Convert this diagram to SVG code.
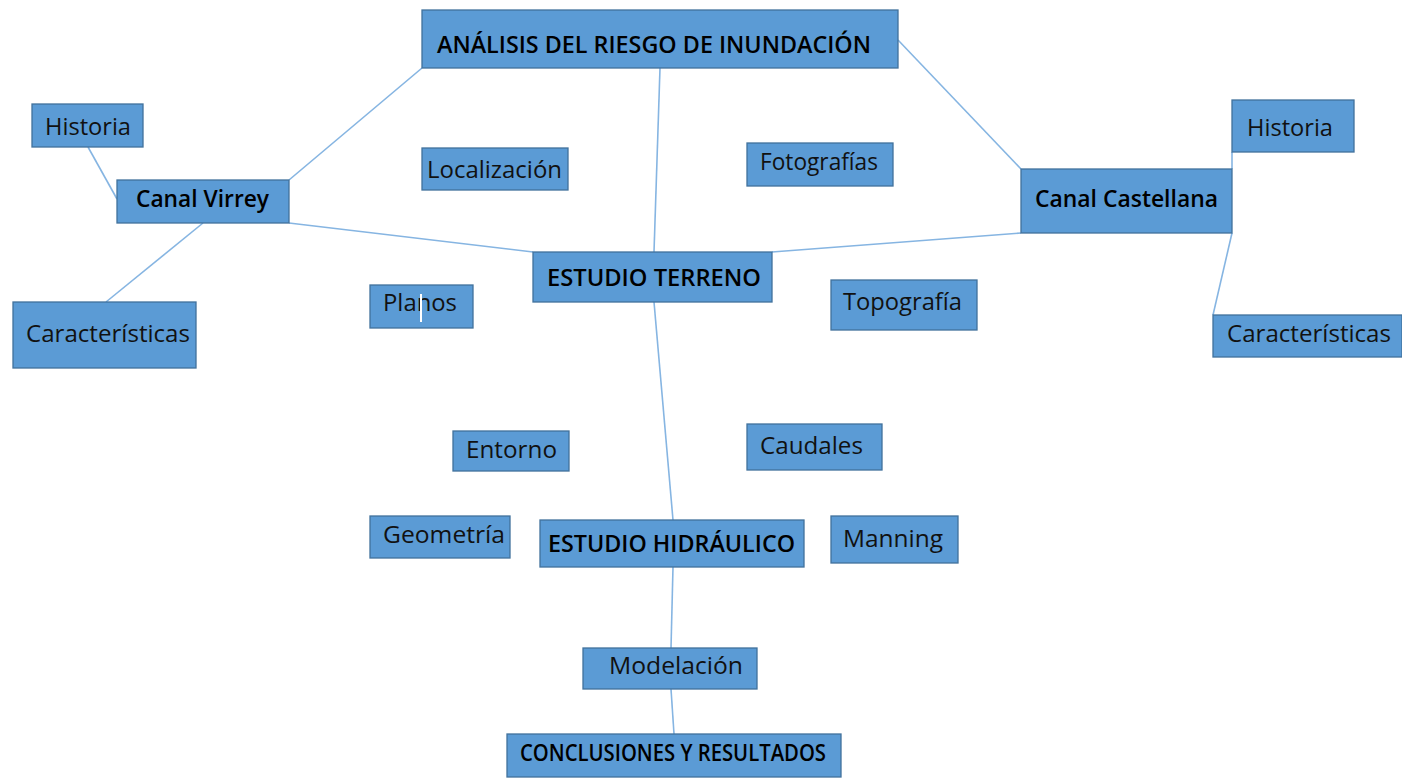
<svg xmlns="http://www.w3.org/2000/svg" width="1402" height="778" viewBox="0 0 1402 778">
<style>
.b{fill:#5b9bd5;stroke:#41719c;stroke-width:1.3}
.t{font-family:"Open Sans","Noto Sans",sans-serif;font-size:23px;fill:#111}
.h{font-family:"Open Sans","Noto Sans",sans-serif;font-size:24px;font-weight:600;fill:#000}
.c line{stroke:#86b5e2;stroke-width:1.6}
</style>
<rect width="1402" height="778" fill="#fff"/>
<g class="c" id="connectors">
<line x1="422" y1="68" x2="289" y2="180"/>
<line x1="660" y1="68" x2="654" y2="252"/>
<line x1="898" y1="40" x2="1021" y2="169"/>
<line x1="289" y1="223" x2="533" y2="252"/>
<line x1="1021" y1="233" x2="772" y2="252"/>
<line x1="88" y1="147" x2="117" y2="199"/>
<line x1="203" y1="223" x2="106" y2="302"/>
<line x1="1232" y1="152" x2="1232" y2="169"/>
<line x1="1232" y1="233" x2="1213" y2="315"/>
<line x1="654" y1="302" x2="673" y2="520"/>
<line x1="673" y1="567" x2="671" y2="648"/>
<line x1="671" y1="689" x2="674" y2="734"/>
</g>
<g id="analisis"><rect class="b" x="422" y="10" width="476" height="58"/><text class="h" x="437" y="53" textLength="434" lengthAdjust="spacingAndGlyphs">ANÁLISIS DEL RIESGO DE INUNDACIÓN</text></g>
<g id="historia-v"><rect class="b" x="32" y="104" width="111" height="43"/><text class="t" x="45" y="135" textLength="86" lengthAdjust="spacingAndGlyphs">Historia</text></g>
<g id="canal-virrey"><rect class="b" x="117" y="180" width="172" height="43"/><text class="h" x="136" y="207" textLength="133" lengthAdjust="spacingAndGlyphs">Canal Virrey</text></g>
<g id="caract-v"><rect class="b" x="13" y="302" width="183" height="66"/><text class="t" x="26" y="342" textLength="164" lengthAdjust="spacingAndGlyphs">Características</text></g>
<g id="localizacion"><rect class="b" x="422" y="148" width="146" height="42"/><text class="t" x="427" y="178" textLength="135" lengthAdjust="spacingAndGlyphs">Localización</text></g>
<g id="fotografias"><rect class="b" x="747" y="143" width="146" height="43"/><text class="t" x="760" y="170" font-size="21" textLength="118" lengthAdjust="spacingAndGlyphs">Fotografías</text></g>
<g id="canal-castellana"><rect class="b" x="1021" y="169" width="211" height="64"/><text class="h" x="1035" y="207" textLength="183" lengthAdjust="spacingAndGlyphs">Canal Castellana</text></g>
<g id="historia-c"><rect class="b" x="1232" y="100" width="122" height="52"/><text class="t" x="1247" y="136" textLength="86" lengthAdjust="spacingAndGlyphs">Historia</text></g>
<g id="caract-c"><rect class="b" x="1213" y="315" width="189" height="42"/><text class="t" x="1227" y="342" textLength="164" lengthAdjust="spacingAndGlyphs">Características</text></g>
<g id="estudio-terreno"><rect class="b" x="533" y="252" width="239" height="50"/><text class="h" x="547" y="286" textLength="214" lengthAdjust="spacingAndGlyphs">ESTUDIO TERRENO</text></g>
<g id="planos"><rect class="b" x="370" y="285" width="103" height="43"/><text class="t" x="383" y="311" textLength="74" lengthAdjust="spacingAndGlyphs">Planos</text><rect x="420" y="294" width="2" height="28" fill="#fff"/></g>
<g id="topografia"><rect class="b" x="831" y="280" width="146" height="50"/><text class="t" x="843" y="310" textLength="119" lengthAdjust="spacingAndGlyphs">Topografía</text></g>
<g id="entorno"><rect class="b" x="453" y="431" width="116" height="40"/><text class="t" x="466" y="458" textLength="91" lengthAdjust="spacingAndGlyphs">Entorno</text></g>
<g id="caudales"><rect class="b" x="747" y="424" width="135" height="46"/><text class="t" x="760" y="454" textLength="103" lengthAdjust="spacingAndGlyphs">Caudales</text></g>
<g id="geometria"><rect class="b" x="370" y="516" width="140" height="42"/><text class="t" x="383" y="543" textLength="122" lengthAdjust="spacingAndGlyphs">Geometría</text></g>
<g id="estudio-hidraulico"><rect class="b" x="540" y="520" width="264" height="47"/><text class="h" x="548" y="552" textLength="247" lengthAdjust="spacingAndGlyphs">ESTUDIO HIDRÁULICO</text></g>
<g id="manning"><rect class="b" x="831" y="516" width="127" height="47"/><text class="t" x="843" y="547" textLength="100" lengthAdjust="spacingAndGlyphs">Manning</text></g>
<g id="modelacion"><rect class="b" x="583" y="648" width="174" height="41"/><text class="t" x="609" y="674" textLength="134" lengthAdjust="spacingAndGlyphs">Modelación</text></g>
<g id="conclusiones"><rect class="b" x="507" y="734" width="334" height="43"/><text class="h" x="520" y="761" font-size="20" textLength="306" lengthAdjust="spacingAndGlyphs">CONCLUSIONES Y RESULTADOS</text></g>
</svg>
